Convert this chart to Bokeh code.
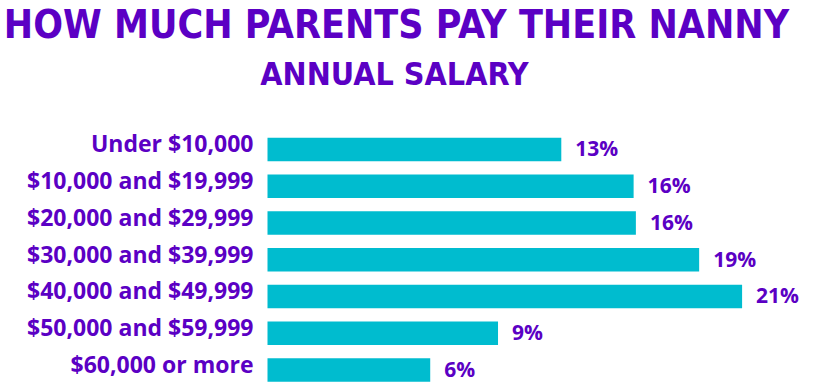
from bokeh.plotting import figure
from bokeh.models import Range1d, Label, ColumnDataSource
from bokeh.core.properties import value
from bokeh.embed import file_html
from bokeh.resources import INLINE

categories = ["Under $10,000", "$10,000 and $19,999", "$20,000 and $29,999",
              "$30,000 and $39,999", "$40,000 and $49,999", "$50,000 and $59,999",
              "$60,000 or more"]
bar_values = [13.0, 16.2, 16.3, 19.1, 21.0, 10.2, 7.2]
value_labels = ["13%", "16%", "16%", "19%", "21%", "9%", "6%"]

title_text = "HOW MUCH PARENTS PAY THEIR NANNY"
subtitle_text = "ANNUAL SALARY"

PURPLE = "#5B00C4"
CYAN = "#00BCCF"

W, H = 827, 390
X0, SX = 267, 22.6
n = len(categories)
ypos = [n - 1 - i for i in range(n)]

src = ColumnDataSource(dict(cat=categories, val=bar_values, lab=value_labels, y=ypos))

p = figure(width=W, height=H, output_backend="svg", toolbar_location=None,
           x_range=Range1d(-X0 / SX, (W - X0) / SX),
           y_range=Range1d(-0.558, 10.054),
           min_border=0, min_border_left=0, min_border_right=0,
           min_border_top=0, min_border_bottom=0)
p.xaxis.visible = False
p.yaxis.visible = False
p.grid.visible = False
p.outline_line_color = None
p.background_fill_color = "white"
p.border_fill_color = "white"

p.hbar(y="y", right="val", left=0, height=0.634, source=src,
       fill_color=CYAN, line_color=None)

p.text(x=0, y="y", text="cat", source=src, x_offset=-14, y_offset=-6,
       text_align="right", text_baseline="middle",
       text_font=value("Open Sans"), text_font_style="bold",
       text_font_size="23px", text_color=PURPLE)

p.text(x="val", y="y", text="lab", source=src, x_offset=14, y_offset=-1,
       text_align="left", text_baseline="middle",
       text_font=value("Open Sans"), text_font_style="bold",
       text_font_size="21px", text_color=PURPLE)

p.add_layout(Label(x=396, y=H - 24, x_units="screen", y_units="screen",
                   text=title_text, text_align="center", text_baseline="alphabetic",
                   text_font="DejaVu Sans Condensed", text_font_style="bold",
                   text_font_size="39px", text_color=PURPLE))
p.add_layout(Label(x=394, y=H - 73, x_units="screen", y_units="screen",
                   text=subtitle_text, text_align="center", text_baseline="alphabetic",
                   text_font="DejaVu Sans Condensed", text_font_style="bold",
                   text_font_size="32px", text_color=PURPLE))

open("out.html", "w").write(file_html(p, INLINE))
